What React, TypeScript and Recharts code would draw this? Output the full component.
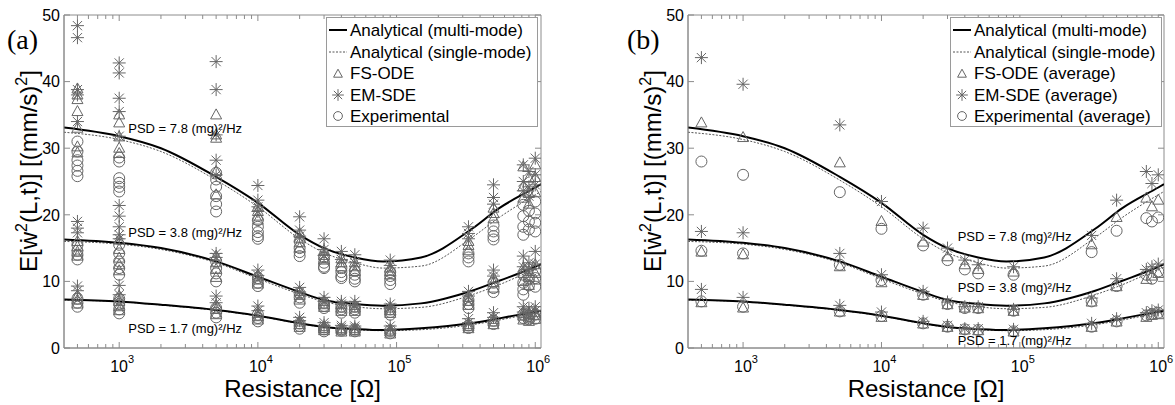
import React from "react";
import {
  ComposedChart,
  XAxis,
  YAxis,
  Line,
  Scatter,
  ReferenceArea,
  ReferenceDot,
  Legend,
} from "recharts";

const FONT = "'Liberation Sans', Arial, 'DejaVu Sans', sans-serif";
const AXIS = "#8c8c8c";
const MARK = "#666666";

// resistances where measurements / simulations were taken
const resistances = [500, 1000, 5000, 10000, 20000, 30000, 40000, 50000, 90000, 330000, 500000, 820000, 900000, 1000000];

// analytical curves
const curveR = [400, 1000, 2000, 5000, 10000, 20000, 30000, 50000, 80000, 150000, 350000, 550000, 1000000, 1100000];
const multi78 = [33.1, 31.8, 30.0, 25.7, 21.8, 17.0, 15.0, 13.6, 13.0, 13.6, 17.9, 21.0, 24.1, 24.6];
const single78 = [32.4, 31.3, 29.5, 25.2, 21.2, 16.4, 14.3, 12.8, 12.0, 12.3, 16.6, 19.6, 23.0, 23.5];
const multi38 = [16.3, 15.8, 15.0, 13.0, 10.7, 8.4, 7.2, 6.6, 6.35, 6.7, 8.6, 10.1, 12.2, 12.6];
const single38 = [16.0, 15.6, 14.8, 12.8, 10.4, 8.1, 6.95, 6.2, 5.9, 6.1, 8.0, 9.5, 11.8, 12.1];
const multi17 = [7.3, 7.0, 6.5, 5.7, 4.85, 3.7, 3.15, 2.85, 2.7, 2.95, 3.75, 4.45, 5.45, 5.6];
const single17 = [7.2, 6.95, 6.45, 5.65, 4.8, 3.65, 3.1, 2.75, 2.6, 2.75, 3.5, 4.2, 5.25, 5.4];

// (a) all runs, one list per resistance
const fs78 = [[38.9, 38.0, 37.3, 35.5, 33.0, 30.2, 29.3], [35.0, 33.8, 31.7, 30.0, 29.2], [35.0, 32.0, 31.5, 26.5, 23.0], [21.2, 20.5, 19.8, 19.2], [17.2, 16.5, 15.8, 15.0], [14.6, 13.9, 13.2], [13.4, 12.8, 12.2], [12.8, 12.2, 11.5], [12.0, 11.5, 11.0], [16.0, 15.4, 14.6], [21.0, 20.2, 19.4], [27.2, 24.2, 22.5], [25.5, 23.2, 21.6], [27.5, 25.6, 23.3]];
const em78 = [[48.4, 46.6, 38.8, 38.0, 34.0], [42.8, 41.3, 37.5, 35.5, 31.8, 21.4, 19.8], [43.0, 38.8, 32.0, 28.2, 26.0], [24.4, 22.2, 21.2, 20.5], [19.7, 17.7, 16.8], [16.4, 14.8, 13.9], [14.5, 13.3], [14.0, 12.8], [13.2, 12.4], [18.2, 17.2, 16.4], [24.5, 22.6, 21.6], [27.5, 25.0, 23.6], [26.5, 24.2, 22.8], [28.5, 26.0, 24.5]];
const exp78 = [[31.0, 29.5, 28.2, 27.4, 26.6, 25.8], [28.6, 28.0, 25.5, 24.8, 24.2, 23.5], [26.3, 25.3, 24.2, 22.8, 21.6, 20.5], [19.2, 18.2, 17.4, 16.8, 16.4], [16.0, 15.0, 14.4, 13.8], [13.6, 12.8, 12.2, 12.0], [12.0, 11.4, 10.8, 10.5], [11.6, 11.0, 10.4, 10.0], [11.4, 10.8, 10.2, 9.6], [14.2, 13.6, 13.0], [18.4, 17.5, 16.8, 16.3], [21.5, 19.8, 18.2, 17.0], [20.6, 19.0, 17.8], [22.0, 20.2, 18.8, 17.5]];
const fs38 = [[16.0, 15.2, 14.4, 13.8], [16.2, 14.8, 13.5, 12.5, 11.6], [13.8, 12.8, 11.8, 10.6], [10.8, 10.2, 9.6], [8.5, 7.9, 7.2], [7.0, 6.5, 6.1], [6.5, 6.0, 5.5], [6.4, 6.0, 5.5], [6.0, 5.6, 5.2], [7.6, 7.0, 6.4], [10.5, 9.8, 9.0], [12.0, 11.2, 10.0], [11.5, 10.6, 9.4], [12.5, 11.2, 10.2]];
const em38 = [[19.0, 18.0, 17.3], [18.2, 17.0, 16.4], [14.2, 13.6], [11.7, 10.9], [9.1, 8.4], [7.6, 7.0], [7.0, 6.6], [7.0, 6.4], [6.6, 6.1], [8.5, 7.8], [11.7, 10.8], [13.8, 12.2], [12.8, 11.8], [14.5, 12.6]];
const exp38 = [[15.5, 14.6, 14.0, 13.3], [15.5, 14.2, 13.0, 12.0, 11.0], [13.0, 12.0, 11.2, 10.0], [10.5, 9.8, 9.3], [8.2, 7.6, 6.8], [6.8, 6.3, 6.0], [6.2, 5.8, 5.3], [6.2, 5.8, 5.3], [5.8, 5.4, 5.0], [7.2, 6.6, 6.0], [9.8, 9.0, 8.4], [11.0, 9.8, 8.8, 8.0], [10.4, 9.4], [11.6, 10.5, 9.2]];
const fs17 = [[7.8, 7.2, 6.6], [7.8, 7.0, 6.2, 5.6], [6.4, 5.8, 5.0], [5.2, 4.7, 4.2], [3.9, 3.5, 3.1], [3.2, 2.9, 2.6], [2.9, 2.7, 2.4], [2.9, 2.6, 2.4], [2.7, 2.4, 2.1], [3.5, 3.2, 2.9], [4.3, 3.9, 3.5], [5.2, 4.8, 4.2], [5.0, 4.5, 4.0], [5.3, 4.9, 4.3]];
const em17 = [[9.3, 8.6], [9.4, 8.0], [7.8, 6.8], [6.3, 5.6], [4.6, 4.1], [3.8, 3.4], [3.4, 3.1], [3.3, 3.0], [3.3, 2.8], [4.4, 3.8], [5.3, 4.6], [6.2, 5.4], [6.0, 5.2], [6.2, 5.6]];
const exp17 = [[7.4, 6.8, 6.2], [7.4, 6.6, 5.8, 5.2], [6.0, 5.3, 4.6], [5.0, 4.5, 4.0], [3.7, 3.3, 2.9], [3.1, 2.8, 2.5], [2.8, 2.6], [2.8, 2.5], [2.6, 2.2], [3.4, 3.0], [4.1, 3.6], [5.0, 4.5], [4.8, 4.3], [5.0, 4.4]];

// (b) averages
const fsAvg78 = [33.8, 31.6, 27.8, 19.0, 15.9, 13.7, 12.5, 11.8, 11.4, 15.5, 19.6, 22.5, 21.2, 22.2];
const emAvg78 = [43.6, 39.6, 33.5, 22.0, 18.0, 15.0, 13.2, 12.5, 12.2, 16.9, 22.2, 26.5, 24.7, 26.0];
const expAvg78 = [28.0, 26.0, 23.4, 17.9, 15.4, 13.2, 11.8, 11.2, 11.0, 14.4, 17.6, 19.5, 19.0, 19.6];
const fsAvg38 = [14.4, 14.0, 12.2, 9.8, 7.9, 6.5, 6.0, 5.9, 5.5, 6.9, 9.2, 10.3, 10.8, 11.2];
const emAvg38 = [17.5, 17.3, 14.2, 11.0, 8.5, 6.9, 6.2, 6.2, 5.8, 7.5, 10.4, 11.8, 12.2, 12.6];
const expAvg38 = [14.6, 14.2, 12.5, 10.2, 8.0, 6.6, 6.0, 6.0, 5.6, 7.0, 9.3, 11.0, 10.4, 11.5];
const fsAvg17 = [6.8, 6.0, 5.4, 4.6, 3.6, 3.1, 2.7, 2.6, 2.4, 3.1, 3.9, 4.6, 4.9, 5.0];
const emAvg17 = [8.8, 7.6, 6.4, 5.4, 4.0, 3.4, 2.9, 2.9, 2.8, 3.7, 4.4, 5.3, 5.6, 5.7];
const expAvg17 = [7.0, 6.2, 5.5, 4.8, 3.7, 3.2, 2.8, 2.7, 2.5, 3.2, 4.0, 4.9, 5.1, 5.3];

const xTicks = [
  500, 600, 700, 800, 900, 1000, 2000, 3000, 4000, 5000, 6000, 7000, 8000, 9000,
  10000, 20000, 30000, 40000, 50000, 60000, 70000, 80000, 90000,
  100000, 200000, 300000, 400000, 500000, 600000, 700000, 800000, 900000, 1000000,
];
const yTicks = [0, 10, 20, 30, 40, 50];

const legendA = ["Analytical (multi-mode)", "Analytical (single-mode)", "FS-ODE", "EM-SDE", "Experimental"];
const legendB = ["Analytical (multi-mode)", "Analytical (single-mode)", "FS-ODE (average)", "EM-SDE (average)", "Experimental (average)"];
const psdLabels = ["PSD = 7.8 (mg)²/Hz", "PSD = 3.8 (mg)²/Hz", "PSD = 1.7 (mg)²/Hz"];

type Pt = { x: number; y: number };
const line = (ys: number[]): Pt[] => curveR.map((x, i) => ({ x, y: ys[i] }));
const runs = (...sets: number[][][]): Pt[] =>
  sets.flatMap((g) => resistances.flatMap((r, i) => g[i].map((y) => ({ x: r, y }))));
const avgs = (...sets: number[][]): Pt[] =>
  sets.flatMap((g) => resistances.map((r, i) => ({ x: r, y: g[i] })));

const Tri = ({ cx, cy, s = 1 }: any) => (
  <polygon
    points={`${cx},${cy - 6 * s} ${cx + 5.5 * s},${cy + 4 * s} ${cx - 5.5 * s},${cy + 4 * s}`}
    fill="none"
    stroke={MARK}
    strokeWidth={1}
  />
);
const Star = ({ cx, cy, s = 1 }: any) => {
  const r = 6.5 * s;
  const d = r * 0.707;
  return (
    <g stroke={MARK} strokeWidth={1}>
      <line x1={cx - r} x2={cx + r} y1={cy} y2={cy} />
      <line x1={cx} x2={cx} y1={cy - r} y2={cy + r} />
      <line x1={cx - d} x2={cx + d} y1={cy - d} y2={cy + d} />
      <line x1={cx - d} x2={cx + d} y1={cy + d} y2={cy - d} />
    </g>
  );
};
const Circ = ({ cx, cy, s = 1 }: any) => (
  <circle cx={cx} cy={cy} r={5.5 * s} fill="none" stroke={MARK} strokeWidth={1} />
);

const XTick = ({ x, y, payload, plotH }: any) => {
  const v = payload.value;
  const e = Math.round(Math.log10(v));
  const major = Math.abs(Math.pow(10, e) - v) < 1e-6 * v;
  const len = major ? 6 : 4;
  return (
    <g>
      <line x1={x} x2={x} y1={y} y2={y - len} stroke={AXIS} />
      <line x1={x} x2={x} y1={y - plotH} y2={y - plotH + len} stroke={AXIS} />
      {major && (
        <text x={x - 9} y={y + 24} fontSize={16} fontFamily={FONT} fill="#000">
          10<tspan dy={-9} fontSize={11}>{e}</tspan>
        </text>
      )}
    </g>
  );
};

const YTick = ({ x, y, payload, plotW }: any) => (
  <g>
    <line x1={x} x2={x + 6} y1={y} y2={y} stroke={AXIS} />
    <line x1={x + plotW} x2={x + plotW - 6} y1={y} y2={y} stroke={AXIS} />
    <text x={x - 4} y={y} dy="0.36em" textAnchor="end" fontSize={16} fontFamily={FONT} fill="#000">
      {payload.value}
    </text>
  </g>
);

const XTitle = ({ viewBox }: any) => (
  <text x={viewBox.x + viewBox.width / 2} y={viewBox.y + 49} textAnchor="middle" fontSize={24} fontFamily={FONT} fill="#000">
    Resistance [Ω]
  </text>
);

const YTitle = ({ viewBox, tag, tagX }: any) => {
  const bx = viewBox.x + 13;
  const cy = 171;
  return (
    <g fill="#000">
      <text
        transform={`translate(${bx},${cy}) rotate(-90)`}
        textAnchor="middle"
        fontSize={24}
        fontFamily={FONT}
      >
        E[ẇ<tspan dy={-10} fontSize={16}>2</tspan>
        <tspan dy={10}>(L,t)] [(mm/s)</tspan>
        <tspan dy={-10} fontSize={16}>2</tspan>
        <tspan dy={10}>]</tspan>
      </text>
      <text x={tagX} y={49} fontSize={28} fontFamily="'Liberation Serif', 'Times New Roman', serif">
        {tag}
      </text>
    </g>
  );
};

const LegendBox = ({ names }: { names: string[] }) => {
  const rows = [13, 35, 56, 78, 99];
  return (
    <svg width={213} height={111} style={{ display: "block" }}>
      <rect x={0.5} y={0.5} width={211} height={109} fill="#fff" stroke="#9a9a9a" />
      <line x1={3} x2={21} y1={rows[0]} y2={rows[0]} stroke="#000" strokeWidth={2} />
      <line x1={3} x2={21} y1={rows[1]} y2={rows[1]} stroke="#555" strokeDasharray="2 1.5" />
      <Tri cx={12} cy={rows[2] + 1} s={0.8} />
      <Star cx={12} cy={rows[3]} s={0.9} />
      <Circ cx={12} cy={rows[4]} s={0.8} />
      {names.map((n, i) => (
        <text key={n} x={24} y={rows[i]} dy="0.36em" fontSize={17} fontFamily={FONT} fill="#000">
          {n}
        </text>
      ))}
    </svg>
  );
};

type PanelProps = {
  left: number;
  marginLeft: number;
  marginRight: number;
  tag: string;
  tagX: number;
  fs: Pt[];
  em: Pt[];
  exp: Pt[];
  names: string[];
  legendX: number;
  psdX: number;
  psdY: number[];
};

const W = 587;
const H = 405;
const TOP = 15;
const BOTTOM = 27;
const XH = 30;
const YW = 40;

const Panel = (p: PanelProps) => {
  const plotW = W - p.marginLeft - YW - p.marginRight;
  const plotH = H - TOP - BOTTOM - XH;
  return (
    <div style={{ position: "absolute", left: p.left, top: 0 }}>
      <ComposedChart width={W} height={H} margin={{ top: TOP, right: p.marginRight, bottom: BOTTOM, left: p.marginLeft }}>
        <XAxis
          dataKey="x"
          type="number"
          scale="log"
          domain={[400, 1100000]}
          allowDataOverflow
          ticks={xTicks}
          interval={0}
          tickSize={0}
          tickMargin={0}
          tickLine={false}
          axisLine={{ stroke: AXIS }}
          height={XH}
          tick={<XTick plotH={plotH} />}
          label={<XTitle />}
        />
        <YAxis
          dataKey="y"
          type="number"
          domain={[0, 50]}
          allowDataOverflow
          ticks={yTicks}
          interval={0}
          tickSize={0}
          tickMargin={0}
          tickLine={false}
          axisLine={{ stroke: AXIS }}
          width={YW}
          tick={<YTick plotW={plotW} />}
          label={<YTitle tag={p.tag} tagX={p.tagX} />}
        />
        <ReferenceArea x1={400} x2={1100000} y1={0} y2={50} fill="none" stroke={AXIS} strokeOpacity={1} fillOpacity={0} />
        <Scatter data={p.exp} dataKey="y" shape={<Circ />} isAnimationActive={false} />
        <Scatter data={p.fs} dataKey="y" shape={<Tri />} isAnimationActive={false} />
        <Scatter data={p.em} dataKey="y" shape={<Star />} isAnimationActive={false} />
        {[single78, single38, single17].map((s, i) => (
          <Line key={"s" + i} data={line(s)} dataKey="y" type="monotone" stroke="#555" strokeWidth={1} strokeDasharray="2 1.5" dot={false} isAnimationActive={false} />
        ))}
        {[multi78, multi38, multi17].map((s, i) => (
          <Line key={"m" + i} data={line(s)} dataKey="y" type="monotone" stroke="#000" strokeWidth={2} dot={false} isAnimationActive={false} />
        ))}
        {psdLabels.map((t, i) => (
          <ReferenceDot
            key={t}
            x={p.psdX}
            y={p.psdY[i]}
            r={0}
            fill="none"
            stroke="none"
            label={{ value: t, position: "right", offset: 5, fontSize: 13, fill: "#000", fontFamily: FONT }}
          />
        ))}
        <Legend
          layout="horizontal"
          verticalAlign="middle"
          align="center"
          wrapperStyle={{ left: p.legendX, top: 17, width: 213, height: 111 }}
          content={() => <LegendBox names={p.names} />}
        />
      </ComposedChart>
    </div>
  );
}; 

export default function App() {
  return (
    <div style={{ position: "absolute", left: 0, top: 0, width: 1175, height: 405, background: "#fff" }}>
      <Panel
        left={0}
        marginLeft={24}
        marginRight={46}
        tag="(a)"
        tagX={7}
        fs={runs(fs78, fs38, fs17)}
        em={runs(em78, em38, em17)}
        exp={runs(exp78, exp38, exp17)}
        names={legendA}
        legendX={326}
        psdX={1070}
        psdY={[33.0, 17.3, 3.0]}
      />
      <Panel
        left={588}
        marginLeft={60}
        marginRight={11}
        tag="(b)"
        tagX={39}
        fs={avgs(fsAvg78, fsAvg38, fsAvg17)}
        em={avgs(emAvg78, emAvg38, emAvg17)}
        exp={avgs(expAvg78, expAvg38, expAvg17)}
        names={legendB}
        legendX={362}
        psdX={32700}
        psdY={[16.8, 9.1, 1.2]}
      />
    </div>
  );
}
